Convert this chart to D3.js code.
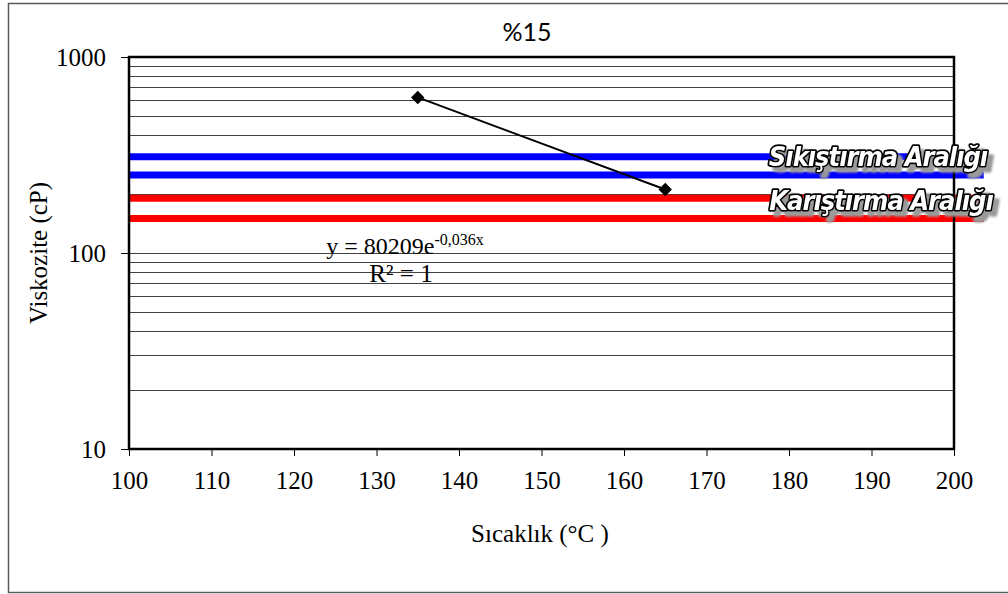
<!DOCTYPE html>
<html>
<head>
<meta charset="utf-8">
<script src="https://cdn.jsdelivr.net/npm/d3@7/dist/d3.min.js"></script>
<style>
  html, body { margin: 0; padding: 0; background: #fff; }
  svg { display: block; }
</style>
</head>
<body>
<svg id="chart" width="1008" height="594"></svg>
<script>
// Measured viscosity at two temperatures
const temperatures = [135, 165];
const viscosities = [622, 211];

// Horizontal range lines (cP): compaction range in blue, mixing range in red
const compactionRange = [310, 250];
const mixingRange = [190, 150];

const xTicks = [100, 110, 120, 130, 140, 150, 160, 170, 180, 190, 200];
const yMajorTicks = [10, 100, 1000];
const yGridValues = [20, 30, 40, 50, 60, 70, 80, 90, 100, 200, 300, 400, 500, 600, 700, 800, 900, 1000];

const titleText = "%15";
const xTitle = "Sıcaklık (°C )";
const yTitle = "Viskozite (cP)";
const compactionLabel = "Sıkıştırma Aralığı";
const mixingLabel = "Karıştırma Aralığı";

const svg = d3.select("#chart");
const W = 1008, H = 594;
const plot = { left: 129, right: 954, top: 57, bottom: 449 };

const x = d3.scaleLinear().domain([100, 200]).range([plot.left, plot.right]);
const y = d3.scaleLog().domain([10, 1000]).range([plot.bottom, plot.top]);

const serif = "'Liberation Serif', 'Times New Roman', serif";

// drop shadow used by the range labels
const defs = svg.append("defs");
const shadow = defs.append("filter").attr("id", "labelShadow")
  .attr("x", "-10%").attr("y", "-30%").attr("width", "130%").attr("height", "180%");
shadow.append("feOffset").attr("in", "SourceAlpha").attr("dx", 5).attr("dy", 5).attr("result", "off");
shadow.append("feGaussianBlur").attr("in", "off").attr("stdDeviation", 1).attr("result", "blur");
shadow.append("feFlood").attr("flood-color", "#9a9a9a").attr("result", "col");
shadow.append("feComposite").attr("in", "col").attr("in2", "blur").attr("operator", "in").attr("result", "sh");
const merge = shadow.append("feMerge");
merge.append("feMergeNode").attr("in", "sh");
merge.append("feMergeNode").attr("in", "SourceGraphic");

// outer chart frame
svg.append("rect")
  .attr("x", 8.5).attr("y", 3.5)
  .attr("width", W + 10).attr("height", 589)
  .attr("fill", "#fff").attr("stroke", "#595959").attr("stroke-width", 1.5);

// horizontal gridlines
svg.append("g").selectAll("line").data(yGridValues).join("line")
  .attr("x1", plot.left).attr("x2", plot.right)
  .attr("y1", d => Math.round(y(d)) + 0.5).attr("y2", d => Math.round(y(d)) + 0.5)
  .attr("stroke", "#404040").attr("stroke-width", 1);

// range lines extend a little beyond the plot's right edge
const rangeExtent = [100, 203.6];
function rangeLines(values, color) {
  svg.append("g").selectAll("line").data(values).join("line")
    .attr("x1", x(rangeExtent[0])).attr("x2", x(rangeExtent[1]))
    .attr("y1", d => y(d)).attr("y2", d => y(d))
    .attr("stroke", color).attr("stroke-width", 7);
}
rangeLines(compactionRange, "#0000ff");
rangeLines(mixingRange, "#ff0000");

// plot frame
svg.append("rect")
  .attr("x", plot.left).attr("y", plot.top)
  .attr("width", plot.right - plot.left).attr("height", plot.bottom - plot.top)
  .attr("fill", "none").attr("stroke", "#000").attr("stroke-width", 2.5);

// axes
const yAxis = d3.axisLeft(y).tickValues(yMajorTicks).tickFormat(d3.format("d")).tickSize(8).tickPadding(8);
const gy = svg.append("g").attr("transform", `translate(${plot.left},0)`).call(yAxis);
gy.select(".domain").remove();
gy.selectAll(".tick line").attr("stroke", "#000").attr("stroke-width", 1);
gy.selectAll("text").attr("font-family", serif).attr("font-size", 25).attr("fill", "#000").attr("dx", -7);

const xAxis = d3.axisBottom(x).tickValues(xTicks).tickFormat(d3.format("d")).tickSize(7);
const gx = svg.append("g").attr("transform", `translate(0,${plot.bottom})`).call(xAxis);
gx.select(".domain").remove();
gx.selectAll(".tick line").attr("stroke", "#000").attr("stroke-width", 1);
gx.selectAll("text").attr("font-family", serif).attr("font-size", 25).attr("fill", "#000")
  .attr("y", 40).attr("dy", 0);

// series line and diamond markers
const pts = temperatures.map((t, i) => [t, viscosities[i]]);
svg.append("path")
  .datum(pts)
  .attr("d", d3.line().x(d => x(d[0])).y(d => y(d[1])))
  .attr("fill", "none").attr("stroke", "#000").attr("stroke-width", 2);
svg.append("g").selectAll("path").data(pts).join("path")
  .attr("transform", d => `translate(${x(d[0])},${y(d[1])})`)
  .attr("d", d3.symbol().type(d3.symbolDiamond2).size(115))
  .attr("fill", "#000");

// title
svg.append("text")
  .attr("x", 527).attr("y", 41)
  .attr("text-anchor", "middle")
  .attr("font-family", "Lato, 'Open Sans', sans-serif")
  .attr("font-size", 25).attr("fill", "#000")
  .text(titleText);

// axis titles
svg.append("text")
  .attr("x", 540).attr("y", 542)
  .attr("text-anchor", "middle")
  .attr("font-family", serif).attr("font-size", 25).attr("fill", "#000")
  .text(xTitle);
svg.append("text")
  .attr("transform", "translate(47,253) rotate(-90)")
  .attr("text-anchor", "middle")
  .attr("font-family", serif).attr("font-size", 25).attr("fill", "#000")
  .text(yTitle);

// trendline equation
const eq = svg.append("text")
  .attr("x", 405).attr("y", 254)
  .attr("text-anchor", "middle")
  .attr("font-family", serif).attr("font-size", 24).attr("fill", "#000");
eq.append("tspan").text("y = 80209e");
eq.append("tspan").attr("dy", -9).attr("font-size", 16).text("-0,036x");
svg.append("text")
  .attr("x", 401).attr("y", 282)
  .attr("text-anchor", "middle")
  .attr("font-family", serif).attr("font-size", 25).attr("fill", "#000")
  .text("R² = 1");

// range labels in outlined, shadowed italic lettering
function artLabel(text, cx, cy) {
  svg.append("text")
    .attr("x", cx).attr("y", cy)
    .attr("text-anchor", "middle")
    .attr("font-family", "'Liberation Sans Narrow', 'DejaVu Sans Condensed', 'Liberation Sans', sans-serif")
    .attr("font-weight", "bold").attr("font-style", "italic")
    .attr("font-size", 27)
    .attr("letter-spacing", -1)
    .attr("fill", "#fff").attr("stroke", "#000").attr("stroke-width", 3.4)
    .attr("stroke-linejoin", "round").attr("paint-order", "stroke")
    .attr("filter", "url(#labelShadow)")
    .text(text);
}
artLabel(compactionLabel, 878, 166);
artLabel(mixingLabel, 881, 210);
</script>
</body>
</html>
